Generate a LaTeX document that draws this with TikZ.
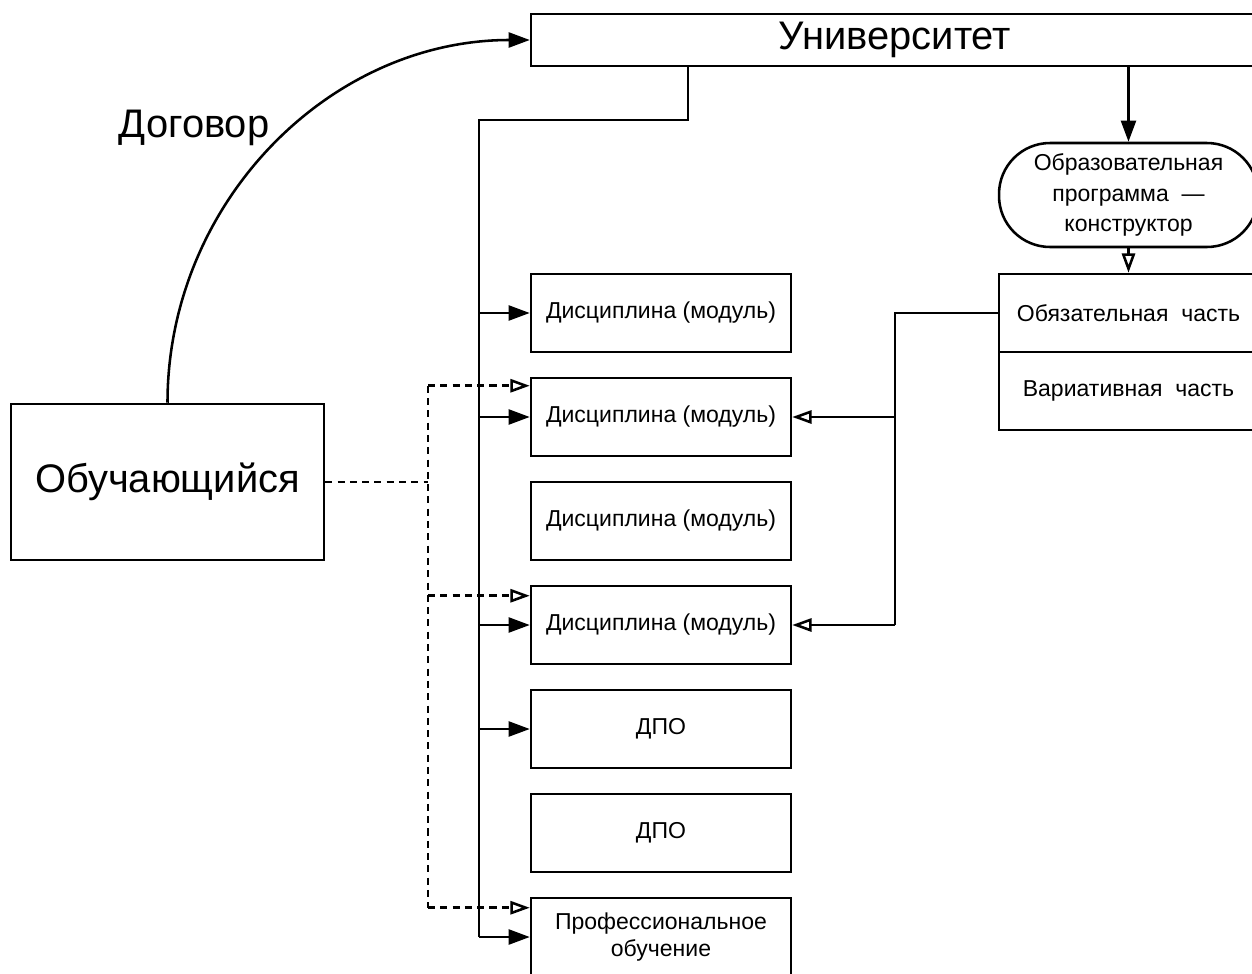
\documentclass[tikz,border=0pt]{standalone}
\usepackage{fontspec}
\setmainfont{Liberation Sans}
\usetikzlibrary{arrows.meta,calc}
\begin{document}
\begin{tikzpicture}[x=0.02cm,y=-0.02cm, line width=1.45pt,
 box/.style={draw, line width=1.45pt, minimum width=5.2cm, minimum height=1.56cm, inner sep=0pt,
   font=\fontsize{13.1}{15.5}\selectfont, align=center},
 big/.style={font=\fontsize{22.7}{27}\selectfont},
 fillarrow/.style={-{Triangle[length=12pt,width=8.5pt]}},
 openarrow/.style={-{Triangle[open,length=11pt,width=7.5pt]}},
 dashline/.style={dash pattern=on 4pt off 3pt},
]
\clip (0,0) rectangle (1252,974);
\fill[white] (0,0) rectangle (1252,974);

% discipline column
\node[box] (d1) at (661,313) {Дисциплина (модуль)};
\node[box] (d2) at (661,417) {Дисциплина (модуль)};
\node[box] (d3) at (661,521) {Дисциплина (модуль)};
\node[box] (d4) at (661,625) {Дисциплина (модуль)};
\node[box] (p1) at (661,729) {ДПО};
\node[box] (p2) at (661,833) {ДПО};
\node[box] (pr) at (661,937) {Профессиональное\\обучение};

% student
\node[draw, big, minimum width=6.26cm, minimum height=3.12cm] (st) at (167.5,482) {Обучающийся};
% university
\node[draw, big, minimum width=14.56cm, minimum height=1.04cm, inner sep=0pt] (univ) at (895,40) {\raisebox{-2pt}{Университет}};
% programme
\node[draw, rounded corners=1.02cm, minimum width=5.18cm, minimum height=2.08cm, inner sep=0pt,
  font=\fontsize{13.1}{17.6}\selectfont, align=center] (op) at (1128.5,195)
  {Образовательная\\программа~~—\\конструктор};
\node[box, minimum width=5.18cm] (ob) at (1128.5,313) {Обязательная\ \ часть};
\node[box, minimum width=5.18cm] (var) at (1128.5,391) {Вариативная\ \ часть};

\node[big] (dog) at (194,128) {Договор};

% contract curve
\draw[fillarrow] (st.north) .. controls (167.5,203) and (329,40) .. (univ.west);

% university to programme
\draw[fillarrow] (univ.south -| op.north) -- (op.north);
\draw[openarrow] (op.south) -- (ob.north);

% main bus
\coordinate (tap) at (688,0);
\coordinate (bus) at (479,120);
\draw (univ.south -| tap) |- (bus) -- (bus |- pr.west);
\foreach \n in {d1,d2,d4,p1,pr}
  \draw[fillarrow] (bus |- \n.west) -- (\n.west);

% dashed bus
\coordinate (dbus) at (428,0);
\coordinate (e2) at ([yshift=-0.18cm]d2.north west);
\coordinate (e4) at ([yshift=-0.22cm]d4.north west);
\coordinate (e7) at ([yshift=-0.22cm]pr.north west);
\draw[dashline] (st.east) -- (st.east -| dbus);
\draw[dashline] (e2 -| dbus) -- (e7 -| dbus);
\foreach \e in {e2,e4,e7}
  \draw[dashline, openarrow] (\e -| dbus) -- (\e);

% right bus
\coordinate (rb) at (895,0);
\draw (ob.west) -- (ob.west -| rb) -- (rb |- d4.east);
\draw[openarrow] (rb |- d2.east) -- (d2.east);
\draw[openarrow] (rb |- d4.east) -- (d4.east);
\end{tikzpicture}
\end{document}
